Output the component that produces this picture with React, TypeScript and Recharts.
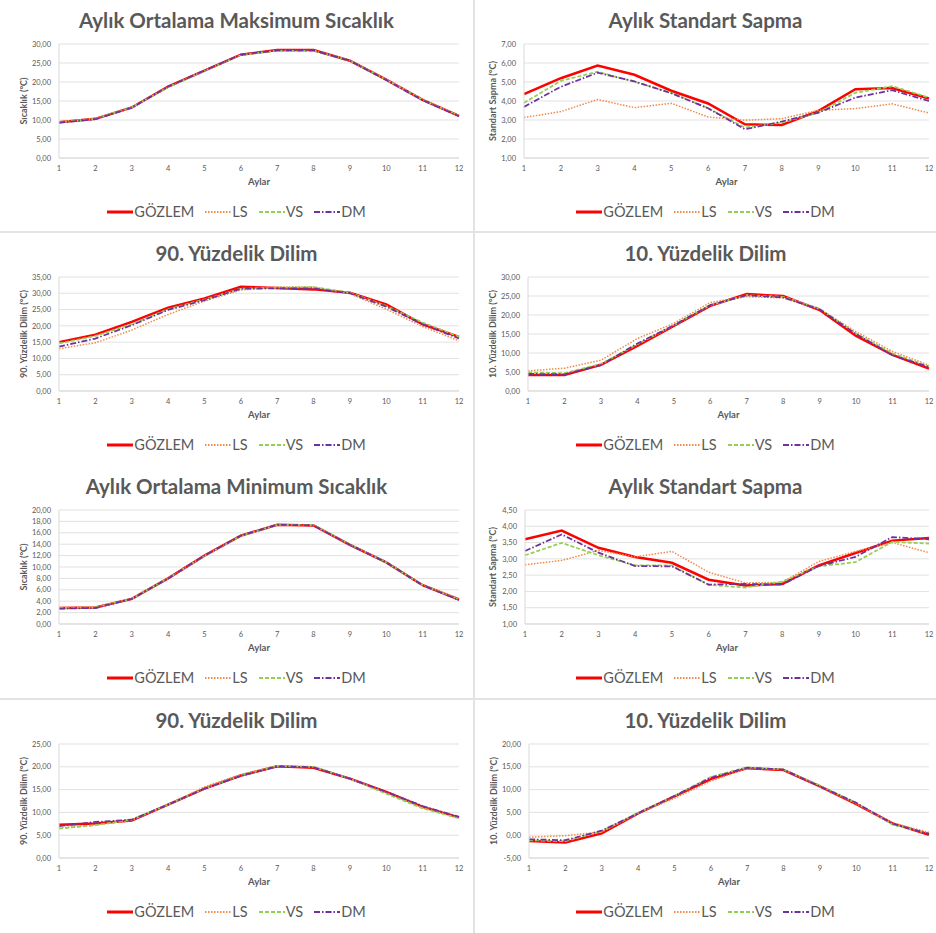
import { CartesianGrid, Line, LineChart, XAxis, YAxis } from "recharts";

const months = [1, 2, 3, 4, 5, 6, 7, 8, 9, 10, 11, 12];

// Aylık ortalama maksimum sıcaklık
const maxObs = [9.4, 10.3, 13.3, 18.8, 23.0, 27.2, 28.4, 28.4, 25.6, 20.6, 15.3, 11.1];
const maxLs = [9.5, 10.4, 13.4, 18.7, 23.0, 27.1, 28.3, 28.3, 25.7, 20.7, 15.4, 11.2];
const maxVs = [9.4, 10.3, 13.3, 18.6, 22.9, 27.1, 28.2, 28.2, 25.6, 20.6, 15.3, 11.1];
const maxDm = [9.3, 10.2, 13.2, 18.8, 23.0, 27.2, 28.3, 28.3, 25.6, 20.5, 15.2, 11.0];

// Aylık standart sapma (maksimum)
const sdMaxObs = [4.36, 5.2, 5.87, 5.38, 4.54, 3.87, 2.77, 2.74, 3.48, 4.62, 4.68, 4.13];
const sdMaxLs = [3.13, 3.44, 4.08, 3.65, 3.88, 3.16, 2.99, 3.07, 3.51, 3.6, 3.85, 3.37];
const sdMaxVs = [3.9, 5.06, 5.54, 5.01, 4.43, 3.62, 2.6, 2.86, 3.39, 4.43, 4.78, 4.18];
const sdMaxDm = [3.69, 4.75, 5.49, 5.03, 4.41, 3.62, 2.51, 2.92, 3.39, 4.18, 4.57, 4.0];

// 90. yüzdelik dilim (maksimum)
const p90MaxObs = [15.0, 17.3, 21.2, 25.6, 28.4, 32.0, 31.6, 31.2, 30.2, 26.6, 20.5, 16.6];
const p90MaxLs = [13.0, 14.8, 18.7, 23.5, 27.6, 31.0, 31.9, 31.9, 29.9, 25.1, 19.8, 15.4];
const p90MaxVs = [14.6, 16.9, 20.5, 25.1, 28.1, 31.4, 31.7, 31.9, 30.2, 26.1, 21.0, 16.7];
const p90MaxDm = [13.6, 16.1, 20.2, 24.9, 27.9, 31.4, 31.5, 31.5, 30.0, 25.9, 20.5, 16.1];

// 10. yüzdelik dilim (maksimum)
const p10MaxObs = [4.2, 4.2, 6.9, 11.9, 17.1, 22.4, 25.5, 25.0, 21.3, 14.5, 9.5, 5.9];
const p10MaxLs = [5.3, 6.0, 8.1, 13.8, 17.8, 23.3, 24.8, 24.5, 21.5, 15.6, 10.4, 6.8];
const p10MaxVs = [4.9, 4.7, 7.1, 12.3, 17.3, 22.6, 25.2, 24.8, 21.7, 15.1, 9.9, 6.5];
const p10MaxDm = [4.5, 4.4, 6.8, 12.5, 17.3, 22.6, 25.2, 24.6, 21.5, 15.0, 9.4, 6.3];

// Aylık ortalama minimum sıcaklık
const minObs = [2.8, 2.9, 4.4, 8.0, 12.0, 15.5, 17.4, 17.3, 13.9, 10.8, 6.8, 4.3];
const minLs = [2.9, 2.9, 4.5, 8.1, 12.0, 15.4, 17.3, 17.3, 13.9, 10.9, 6.9, 4.4];
const minVs = [2.8, 2.9, 4.4, 8.0, 11.9, 15.5, 17.4, 17.4, 14.0, 10.8, 6.8, 4.3];
const minDm = [2.7, 2.8, 4.4, 8.0, 12.0, 15.5, 17.4, 17.3, 13.9, 10.8, 6.8, 4.2];

// Aylık standart sapma (minimum)
const sdMinObs = [3.6, 3.87, 3.34, 3.06, 2.88, 2.36, 2.18, 2.23, 2.8, 3.18, 3.56, 3.64];
const sdMinLs = [2.82, 2.95, 3.26, 3.06, 3.23, 2.59, 2.26, 2.28, 2.92, 3.23, 3.5, 3.19];
const sdMinVs = [3.11, 3.49, 3.11, 2.8, 2.8, 2.2, 2.12, 2.3, 2.77, 2.9, 3.52, 3.47];
const sdMinDm = [3.24, 3.75, 3.19, 2.78, 2.77, 2.21, 2.23, 2.21, 2.78, 3.06, 3.67, 3.6];

// 90. yüzdelik dilim (minimum)
const p90MinObs = [7.3, 7.55, 8.2, 11.7, 15.2, 18.1, 20.1, 19.8, 17.4, 14.5, 11.2, 8.9];
const p90MinLs = [6.6, 7.2, 8.3, 11.7, 15.6, 18.3, 20.2, 20.0, 17.4, 14.4, 11.0, 8.8];
const p90MinVs = [6.45, 7.2, 8.4, 11.7, 15.2, 18.1, 20.2, 20.0, 17.4, 14.1, 10.9, 8.7];
const p90MinDm = [7.0, 7.9, 8.4, 11.7, 15.2, 18.0, 20.1, 19.9, 17.4, 14.5, 11.4, 9.0];

// 10. yüzdelik dilim (minimum)
const p10MinObs = [-1.25, -1.6, 0.4, 4.8, 8.5, 12.3, 14.7, 14.3, 10.7, 6.8, 2.6, 0.1];
const p10MinLs = [-0.45, -0.1, 0.7, 4.8, 8.1, 11.9, 14.7, 14.4, 10.7, 6.9, 2.7, 0.6];
const p10MinVs = [-1.1, -1.3, 0.9, 4.9, 8.6, 12.8, 14.9, 14.4, 10.9, 7.1, 2.3, 0.4];
const p10MinDm = [-0.9, -1.1, 1.0, 4.8, 8.6, 12.6, 14.8, 14.4, 10.7, 7.1, 2.5, 0.3];

const ticksMax = [0, 5, 10, 15, 20, 25, 30];
const ticksSdMax = [1, 2, 3, 4, 5, 6, 7];
const ticksP90Max = [0, 5, 10, 15, 20, 25, 30, 35];
const ticksP10Max = [0, 5, 10, 15, 20, 25, 30];
const ticksMin = [0, 2, 4, 6, 8, 10, 12, 14, 16, 18, 20];
const ticksSdMin = [1, 1.5, 2, 2.5, 3, 3.5, 4, 4.5];
const ticksP90Min = [0, 5, 10, 15, 20, 25];
const ticksP10Min = [-5, 0, 5, 10, 15, 20];

const FONT = "Lato, 'Open Sans', sans-serif";
const TEXT = "#595959";
const GRID = "#d9d9d9";

const SERIES = [
  { key: "obs", name: "GÖZLEM", color: "#ff0000", width: 2.5, dash: undefined },
  { key: "ls", name: "LS", color: "#f08a4b", width: 1.5, dash: "1.5 1.5" },
  { key: "vs", name: "VS", color: "#92d050", width: 1.75, dash: "4 2" },
  { key: "dm", name: "DM", color: "#7030a0", width: 1.75, dash: "6 2 1.5 2" },
];

const fmt = (v: number) => v.toFixed(2).replace(".", ",");

function Legend() {
  return (
    <div
      style={{
        position: "absolute",
        top: 202,
        left: 0,
        right: 0,
        display: "flex",
        justifyContent: "center",
        gap: 11,
        fontFamily: FONT,
        fontSize: 14.5,
        color: TEXT,
        lineHeight: "20px",
      }}
    >
      {SERIES.map((s) => (
        <div key={s.key} style={{ display: "flex", alignItems: "center" }}>
          <svg width={26} height={10}>
            <line
              x1={0}
              y1={5}
              x2={26}
              y2={5}
              stroke={s.color}
              strokeWidth={s.key === "obs" ? 3 : 2}
              strokeDasharray={s.dash}
            />
          </svg>
          <span style={{ marginLeft: 1 }}>{s.name}</span>
        </div>
      ))}
    </div>
  );
}

type PanelProps = {
  top: number;
  left: number;
  width: number;
  plotLeft: number;
  labelX: number;
  title: string;
  yLabel: string;
  ticks: number[];
  obs: number[];
  ls: number[];
  vs: number[];
  dm: number[];
};

function Panel({ top, left, width, plotLeft, labelX, title, yLabel, ticks, obs, ls, vs, dm }: PanelProps) {
  const data = months.map((m, i) => ({ month: m, obs: obs[i], ls: ls[i], vs: vs[i], dm: dm[i] }));
  const rightMargin = left === 0 ? 14 : 7;
  const plotCenter = (plotLeft + width - rightMargin) / 2;
  return (
    <div style={{ position: "absolute", top, left, width, height: 233 }}>
      <div
        style={{
          position: "absolute",
          top: 6,
          left: 0,
          width,
          textAlign: "center",
          fontFamily: FONT,
          fontWeight: 700,
          fontSize: 20.5,
          lineHeight: "28px",
          color: TEXT,
        }}
      >
        {title}
      </div>
      <LineChart
        width={width}
        height={233}
        data={data}
        margin={{ top: 44, right: rightMargin, left: 0, bottom: 0 }}
      >
        <CartesianGrid vertical={false} stroke={GRID} strokeWidth={0.8} />
        <XAxis
          dataKey="month"
          height={75}
          tickLine={false}
          axisLine={{ stroke: GRID }}
          interval={0}
          tick={{ fill: TEXT, fontSize: 7.5, fontFamily: FONT }}
        />
        <YAxis
          width={plotLeft}
          domain={[ticks[0], ticks[ticks.length - 1]]}
          ticks={ticks}
          interval={0}
          tickFormatter={fmt}
          tickLine={false}
          axisLine={{ stroke: GRID }}
          tick={{ fill: TEXT, fontSize: 7.5, fontFamily: FONT }}
          label={{
            position: "insideLeft",
            content: (p: any) => {
              const vb = p.viewBox || { y: 44, height: 114 };
              const cy = vb.y + vb.height / 2;
              return (
                <text
                  x={labelX}
                  y={cy}
                  transform={`rotate(-90 ${labelX} ${cy})`}
                  textAnchor="middle"
                  dominantBaseline="central"
                  fill={TEXT}
                  fontFamily={FONT}
                  fontWeight={700}
                  fontSize={9}
                >
                  {yLabel}
                </text>
              );
            },
          }}
        />
        {SERIES.map((s) => (
          <Line
            key={s.key}
            type="linear"
            dataKey={s.key}
            name={s.name}
            stroke={s.color}
            strokeWidth={s.width}
            strokeDasharray={s.dash}
            dot={false}
            activeDot={false}
            isAnimationActive={false}
          />
        ))}
      </LineChart>
      <div
        style={{
          position: "absolute",
          top: 176,
          left: plotCenter - 40,
          width: 80,
          textAlign: "center",
          fontFamily: FONT,
          fontWeight: 700,
          fontSize: 9.5,
          color: TEXT,
        }}
      >
        Aylar
      </div>
      <Legend />
    </div>
  );
}

export default function App() {
  const LW = 473;
  const RX = 475;
  const RW = 461;
  return (
    <div style={{ position: "relative", width: 936, height: 933, background: "#fff", overflow: "hidden" }}>
      <style>{`body{margin:0}`}</style>
      <Panel top={0} left={0} width={LW} plotLeft={59} labelX={23} title="Aylık Ortalama Maksimum Sıcaklık" yLabel="Sıcaklık (°C)" ticks={ticksMax} obs={maxObs} ls={maxLs} vs={maxVs} dm={maxDm} />
      <Panel top={0} left={RX} width={RW} plotLeft={49} labelX={17} title="Aylık Standart Sapma" yLabel="Standart Sapma (°C)" ticks={ticksSdMax} obs={sdMaxObs} ls={sdMaxLs} vs={sdMaxVs} dm={sdMaxDm} />
      <Panel top={233} left={0} width={LW} plotLeft={59} labelX={23} title="90. Yüzdelik Dilim" yLabel="90. Yüzdelik Dilim (°C)" ticks={ticksP90Max} obs={p90MaxObs} ls={p90MaxLs} vs={p90MaxVs} dm={p90MaxDm} />
      <Panel top={233} left={RX} width={RW} plotLeft={53} labelX={17} title="10. Yüzdelik Dilim" yLabel="10. Yüzdelik Dilim (°C)" ticks={ticksP10Max} obs={p10MaxObs} ls={p10MaxLs} vs={p10MaxVs} dm={p10MaxDm} />
      <Panel top={466} left={0} width={LW} plotLeft={59} labelX={23} title="Aylık Ortalama Minimum Sıcaklık" yLabel="Sıcaklık (°C)" ticks={ticksMin} obs={minObs} ls={minLs} vs={minVs} dm={minDm} />
      <Panel top={466} left={RX} width={RW} plotLeft={50} labelX={17} title="Aylık Standart Sapma" yLabel="Standart Sapma (°C)" ticks={ticksSdMin} obs={sdMinObs} ls={sdMinLs} vs={sdMinVs} dm={sdMinDm} />
      <Panel top={700} left={0} width={LW} plotLeft={59} labelX={23} title="90. Yüzdelik Dilim" yLabel="90. Yüzdelik Dilim (°C)" ticks={ticksP90Min} obs={p90MinObs} ls={p90MinLs} vs={p90MinVs} dm={p90MinDm} />
      <Panel top={700} left={RX} width={RW} plotLeft={54} labelX={18} title="10. Yüzdelik Dilim" yLabel="10. Yüzdelik Dilim (°C)" ticks={ticksP10Min} obs={p10MinObs} ls={p10MinLs} vs={p10MinVs} dm={p10MinDm} />
      <div style={{ position: "absolute", left: 473, top: 0, width: 2, height: 933, background: "#e3e3e3" }} />
      <div style={{ position: "absolute", left: 0, top: 231, width: 936, height: 2, background: "#e3e3e3" }} />
      <div style={{ position: "absolute", left: 0, top: 698, width: 936, height: 2, background: "#e3e3e3" }} />
    </div>
  );
}
